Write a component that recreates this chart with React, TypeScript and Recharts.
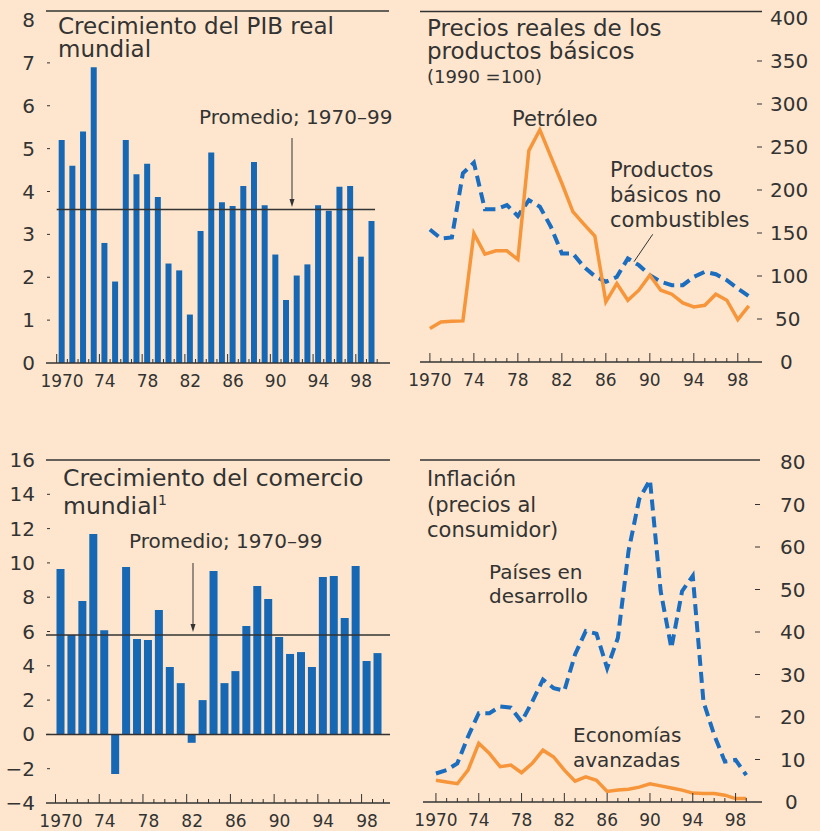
import React from "react";
import { ComposedChart, Bar, Line, XAxis, YAxis, ReferenceLine } from "recharts";

const INK = "#333333";
const BG = "#fde6cd";
const BAR_BLUE = "#1668b4";
const LINE_BLUE = "#1a6dbf";
const ORANGE = "#f7953b";
const FONT = "'DejaVu Sans', sans-serif";

const YEARS = [
  1970, 1971, 1972, 1973, 1974, 1975, 1976, 1977, 1978, 1979,
  1980, 1981, 1982, 1983, 1984, 1985, 1986, 1987, 1988, 1989,
  1990, 1991, 1992, 1993, 1994, 1995, 1996, 1997, 1998, 1999,
];

// Crecimiento del PIB real mundial (%)
const GDP_GROWTH = [
  5.2, 4.6, 5.4, 6.9, 2.8, 1.9, 5.2, 4.4, 4.65, 3.87,
  2.32, 2.16, 1.13, 3.08, 4.91, 3.75, 3.66, 4.13, 4.69, 3.68,
  2.53, 1.47, 2.04, 2.3, 3.68, 3.55, 4.11, 4.13, 2.48, 3.31,
];
const GDP_AVG = 3.58;

// Crecimiento del comercio mundial (%)
const TRADE_GROWTH = [
  9.64, 5.79, 7.78, 11.68, 6.08, -2.31, 9.76, 5.56, 5.5, 7.25,
  3.93, 2.99, -0.49, 2.0, 9.53, 2.99, 3.69, 6.32, 8.65, 7.89,
  5.68, 4.69, 4.8, 3.93, 9.18, 9.23, 6.78, 9.82, 4.28, 4.74,
];
const TRADE_AVG = 5.79;

// Precios reales (1990 = 100)
const OIL_PRICE = [
  39, 46.6, 47.4, 47.8, 149.5, 125.4, 129.3, 129.3, 119.2, 245.8,
  270, 238.8, 207.8, 174.8, 160.4, 146.4, 69.9, 91.3, 71.8, 83.5,
  101, 83.5, 78.8, 68.7, 64, 66, 78.8, 71.8, 49.3, 65.2,
];
const NONFUEL_PRICE = [
  154, 143.7, 144.9, 219.4, 231.8, 177.5, 177.5, 182.5, 169.7, 188.3,
  180.6, 157.3, 126.2, 126.2, 110.7, 99.8, 93.2, 99, 120.4, 112.6,
  101, 93.2, 89.3, 89.3, 99, 104.9, 102.1, 95.1, 85.4, 76.5,
];

// Inflación (precios al consumidor, %)
const INFL_DEVELOPING = [
  6.7, 7.5, 9.1, 15.4, 20.9, 20.9, 22.5, 22.2, 18.9, 23.6,
  28.8, 26.8, 26.2, 34.7, 40.2, 39.6, 31.5, 38.6, 59.1, 71.3,
  75.8, 49.6, 36.2, 49.6, 53.2, 23.6, 15.8, 9.5, 9.9, 6.3,
];
const INFL_ADVANCED = [
  5.1, 4.7, 4.3, 7.5, 13.8, 11.4, 8.3, 8.7, 6.9, 9.1,
  12.2, 10.6, 7.5, 4.9, 5.9, 5.1, 2.5, 2.8, 3.0, 3.5,
  4.3, 3.8, 3.3, 2.8, 2.1, 2.0, 2.0, 1.6, 0.8, 0.8,
];

const LABEL_YEARS = [1970, 1974, 1978, 1982, 1986, 1990, 1994, 1998];
const LABEL_TEXT = ["1970", "74", "78", "82", "86", "90", "94", "98"];
const GDP_TICKS = [0, 1, 2, 3, 4, 5, 6, 7, 8];
const TRADE_TICKS = [-4, -2, 0, 2, 4, 6, 8, 10, 12, 14, 16];
const PRICE_TICKS = [0, 50, 100, 150, 200, 250, 300, 350, 400];
const INFL_TICKS = [0, 10, 20, 30, 40, 50, 60, 70, 80];

const gdpData = YEARS.map((year, i) => ({ year, growth: GDP_GROWTH[i] }));
const tradeData = YEARS.map((year, i) => ({ year, growth: TRADE_GROWTH[i] }));
const priceData = YEARS.map((year, i) => ({ year, oil: OIL_PRICE[i], nonfuel: NONFUEL_PRICE[i] }));
const inflData = YEARS.map((year, i) => ({ year, developing: INFL_DEVELOPING[i], advanced: INFL_ADVANCED[i] }));

// bar panels put their tick marks between years, the line panels on the years
const BOUNDARIES = [...YEARS.map((y) => y - 0.5), 1999.5];
const BAR_X_TICKS = [...BOUNDARIES, ...LABEL_YEARS];

function fmt(v: number) {
  return v < 0 ? "\u2212" + Math.abs(v) : String(v);
}

function BarXTick(props: any) {
  const { x, y, payload } = props;
  const v = payload.value;
  const li = LABEL_YEARS.indexOf(v);
  if (li >= 0) {
    return (
      <text x={x} y={y + 24} textAnchor="middle" fontSize={17} fill={INK} fontFamily={FONT}>
        {LABEL_TEXT[li]}
      </text>
    );
  }
  const major = (v - 1969.5) % 4 === 0;
  return <line x1={x} x2={x} y1={y} y2={y - (major ? 9 : 4)} stroke={INK} strokeWidth={1} />;
}

function LineXTick(props: any) {
  const { x, y, payload } = props;
  const v = payload.value;
  const li = LABEL_YEARS.indexOf(v);
  return (
    <g>
      <line x1={x} x2={x} y1={y} y2={y - (li >= 0 ? 9 : 4)} stroke={INK} strokeWidth={1} />
      {li >= 0 && (
        <text x={x} y={y + 24} textAnchor="middle" fontSize={17} fill={INK} fontFamily={FONT}>
          {LABEL_TEXT[li]}
        </text>
      )}
    </g>
  );
}

function leftYTick(min: number, max: number) {
  return (props: any) => {
    const { x, y, payload } = props;
    const v = payload.value;
    return (
      <g>
        <text x={x - 11} y={y + 7} textAnchor="end" fontSize={20} fill={INK} fontFamily={FONT}>
          {fmt(v)}
        </text>
        {v !== min && v !== max && <line x1={x + 1} x2={x + 4} y1={y} y2={y} stroke={INK} />}
      </g>
    );
  };
}

function rightYTick(min: number, max: number, wide: number, narrow: number, dash0: number, dash1: number) {
  return (props: any) => {
    const { x, y, payload } = props;
    const v = payload.value;
    const s = String(v);
    const dx = s.length >= 3 ? wide : s.length === 2 ? narrow : narrow + 5;
    return (
      <g>
        <text x={x + dx} y={y + 7} textAnchor="start" fontSize={20} fill={INK} fontFamily={FONT}>
          {s}
        </text>
        {v !== min && v !== max && <line x1={x + dash0} x2={x + dash1} y1={y} y2={y} stroke={INK} />}
      </g>
    );
  };
}

function Arrow({ x, y1, y2 }: { x: number; y1: number; y2: number }) {
  return (
    <g>
      <line x1={x} x2={x} y1={y1} y2={y2 - 6} stroke={INK} strokeWidth={1} />
      <polygon points={`${x - 2.5},${y2 - 8} ${x + 2.5},${y2 - 8} ${x},${y2}`} fill={INK} />
    </g>
  );
}

export default function App() {
  const txt = { fill: INK, fontFamily: FONT };
  return (
    <div style={{ position: "absolute", left: 0, top: 0, width: 820, height: 831, background: BG, overflow: "hidden" }}>
      {/* Crecimiento del PIB real mundial */}
      <div style={{ position: "absolute", left: 0, top: 0 }}>
        <ComposedChart width={410} height={400} data={gdpData} margin={{ top: 20, right: 20, bottom: 7, left: 0 }}>
          <XAxis
            dataKey="year"
            type="number"
            domain={[1968.5, 2000.7]}
            ticks={BAR_X_TICKS}
            interval={0}
            tick={<BarXTick />}
            tickLine={false}
            tickSize={0}
            tickMargin={0}
            height={30}
            axisLine={{ stroke: INK, strokeWidth: 1.5 }}
          />
          <YAxis
            type="number"
            domain={[0, 8]}
            ticks={GDP_TICKS}
            interval={0}
            width={46}
            tick={leftYTick(0, 8)}
            tickLine={false}
            tickSize={0}
            tickMargin={0}
            axisLine={false}
          />
          <Bar dataKey="growth" fill={BAR_BLUE} barSize={6} isAnimationActive={false} />
          <ReferenceLine
            segment={[{ x: 1969.5, y: GDP_AVG }, { x: 1999.3, y: GDP_AVG }]}
            stroke={INK}
            strokeWidth={1.5}
          />
        </ComposedChart>
      </div>

      {/* Precios reales de los productos básicos */}
      <div style={{ position: "absolute", left: 400, top: 0 }}>
        <ComposedChart width={420} height={400} data={priceData} margin={{ top: 18, right: 0, bottom: 8, left: 20 }}>
          <XAxis
            dataKey="year"
            type="number"
            domain={[1969.1, 2000.2]}
            ticks={YEARS}
            interval={0}
            tick={<LineXTick />}
            tickLine={false}
            tickSize={0}
            tickMargin={0}
            height={30}
            axisLine={{ stroke: INK, strokeWidth: 1.5 }}
          />
          <YAxis
            orientation="right"
            type="number"
            domain={[0, 400]}
            ticks={PRICE_TICKS}
            interval={0}
            width={58}
            tick={rightYTick(0, 400, 8, 13, -5, 0)}
            tickLine={false}
            tickSize={0}
            tickMargin={0}
            axisLine={false}
          />
          <Line
            dataKey="nonfuel"
            stroke={LINE_BLUE}
            strokeWidth={4}
            strokeDasharray="11 6"
            dot={false}
            isAnimationActive={false}
          />
          <Line dataKey="oil" stroke={ORANGE} strokeWidth={3.5} dot={false} isAnimationActive={false} />
        </ComposedChart>
      </div>

      {/* Crecimiento del comercio mundial */}
      <div style={{ position: "absolute", left: 0, top: 420 }}>
        <ComposedChart width={410} height={411} data={tradeData} margin={{ top: 40, right: 20, bottom: 3, left: 0 }}>
          <XAxis
            dataKey="year"
            type="number"
            domain={[1968.63, 2000.1]}
            ticks={BAR_X_TICKS}
            interval={0}
            tick={<BarXTick />}
            tickLine={false}
            tickSize={0}
            tickMargin={0}
            height={25}
            axisLine={{ stroke: INK, strokeWidth: 1.5 }}
          />
          <YAxis
            type="number"
            domain={[-4, 16]}
            ticks={TRADE_TICKS}
            interval={0}
            width={46}
            tick={leftYTick(-4, 16)}
            tickLine={false}
            tickSize={0}
            tickMargin={0}
            axisLine={false}
          />
          <Bar dataKey="growth" fill={BAR_BLUE} barSize={8} isAnimationActive={false} />
          <ReferenceLine y={TRADE_AVG} stroke={INK} strokeWidth={1.5} />
          <ReferenceLine y={0} stroke={INK} strokeWidth={1.5} />
        </ComposedChart>
      </div>

      {/* Inflación */}
      <div style={{ position: "absolute", left: 400, top: 420 }}>
        <ComposedChart width={420} height={411} data={inflData} margin={{ top: 42, right: 0, bottom: 4, left: 23 }}>
          <XAxis
            dataKey="year"
            type="number"
            domain={[1968.79, 2000.47]}
            ticks={YEARS}
            interval={0}
            tick={<LineXTick />}
            tickLine={false}
            tickSize={0}
            tickMargin={0}
            height={25}
            axisLine={{ stroke: INK, strokeWidth: 1.5 }}
          />
          <YAxis
            orientation="right"
            type="number"
            domain={[0, 80]}
            ticks={INFL_TICKS}
            interval={0}
            width={58}
            tick={rightYTick(0, 80, 18, 18, -7, -2)}
            tickLine={false}
            tickSize={0}
            tickMargin={0}
            axisLine={false}
          />
          <Line
            dataKey="developing"
            stroke={LINE_BLUE}
            strokeWidth={4}
            strokeDasharray="11 6"
            dot={false}
            isAnimationActive={false}
          />
          <Line dataKey="advanced" stroke={ORANGE} strokeWidth={3.5} dot={false} isAnimationActive={false} />
        </ComposedChart>
      </div>

      {/* titles, notes and rules */}
      <svg width={820} height={831} style={{ position: "absolute", left: 0, top: 0, pointerEvents: "none" }}>
        <line x1={46} x2={389} y1={11} y2={11} stroke={INK} strokeWidth={1.5} />
        <line x1={420} x2={762} y1={11.5} y2={11.5} stroke={INK} strokeWidth={1.5} />
        <line x1={46} x2={390} y1={460} y2={460} stroke={INK} strokeWidth={1.5} />
        <line x1={420} x2={760} y1={460} y2={460} stroke={INK} strokeWidth={1.5} />

        <text x={58} y={34} fontSize={23} {...txt}>Crecimiento del PIB real</text>
        <text x={58} y={57} fontSize={23} {...txt}>mundial</text>
        <text x={199} y={124} fontSize={20} {...txt}>Promedio; 1970–99</text>
        <Arrow x={292} y1={138} y2={207} />

        <text x={427} y={36} fontSize={23} {...txt}>Precios reales de los</text>
        <text x={427} y={59} fontSize={23} {...txt}>productos básicos</text>
        <text x={427} y={83} fontSize={18} {...txt}>(1990 =100)</text>
        <text x={512} y={126} fontSize={21} {...txt}>Petróleo</text>
        <text x={610} y={177} fontSize={21} {...txt}>Productos</text>
        <text x={610} y={202} fontSize={21} {...txt}>básicos no</text>
        <text x={610} y={227} fontSize={21} {...txt}>combustibles</text>
        <line x1={652.7} y1={234.3} x2={634} y2={261.7} stroke={INK} strokeWidth={1} />

        <text x={63} y={486} fontSize={23.5} {...txt}>Crecimiento del comercio</text>
        <text x={63} y={514} fontSize={23.5} {...txt}>
          mundial<tspan fontSize={14} dy={-9}>1</tspan>
        </text>
        <text x={129} y={548} fontSize={20} {...txt}>Promedio; 1970–99</text>
        <Arrow x={193} y1={563} y2={632} />

        <text x={427} y={486} fontSize={21} {...txt}>Inflación</text>
        <text x={427} y={512} fontSize={21} {...txt}>(precios al</text>
        <text x={427} y={537} fontSize={21} {...txt}>consumidor)</text>
        <text x={489} y={579} fontSize={20} {...txt}>Países en</text>
        <text x={489} y={603} fontSize={20} {...txt}>desarrollo</text>
        <text x={573} y={742} fontSize={20} {...txt}>Economías</text>
        <text x={573} y={767} fontSize={20} {...txt}>avanzadas</text>
      </svg>
    </div>
  );
}
